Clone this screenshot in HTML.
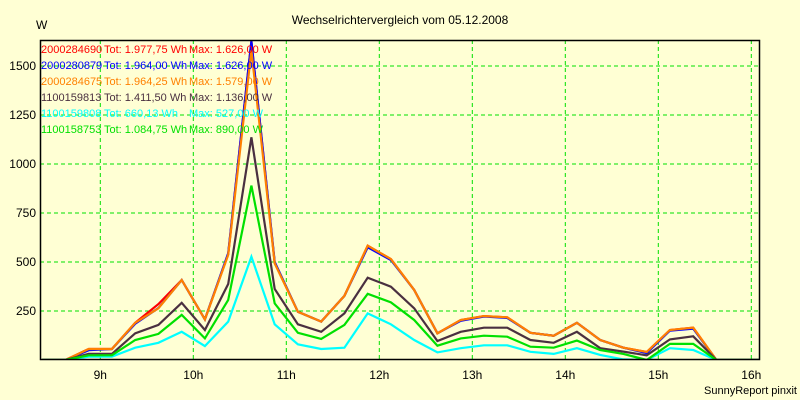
<!DOCTYPE html>
<html><head><meta charset="utf-8"><style>
html,body{margin:0;padding:0;background:#ffffd4;}
svg{display:block;font-family:"Liberation Sans",sans-serif;}
</style></head><body>
<svg id="chart" width="800" height="400" viewBox="0 0 800 400">
<defs><clipPath id="plotclip"><rect x="40" y="40" width="720" height="320"/></clipPath></defs>
<rect x="0" y="0" width="800" height="400" fill="#ffffd4"/>
<text x="400" y="24" text-anchor="middle" font-size="12" fill="#000">Wechselrichtervergleich vom 05.12.2008</text>
<text x="36" y="29" font-size="12" fill="#000">W</text>
<g id="grid"></g>
<g id="series" clip-path="url(#plotclip)"></g>
<rect x="40.5" y="40.5" width="719" height="319" fill="none" stroke="#000" stroke-width="1.5"/>
<g id="ticks"></g>
<g id="legend"></g>
<text x="797" y="394" text-anchor="end" font-size="11" fill="#000">SunnyReport pinxit</text>
</svg>
<script>
// times in hours (15 min intervals, midpoints)
const times = [8.375,8.625,8.875,9.125,9.375,9.625,9.875,10.125,10.375,10.625,10.875,11.125,11.375,11.625,11.875,12.125,12.375,12.625,12.875,13.125,13.375,13.625,13.875,14.125,14.375,14.625,14.875,15.125,15.375,15.625,15.875,16.125,16.375];
const redVals =    [0,0,56,56,190,285,408,207,540,1626,495,246,196,327,583,515,357,136,204,224,218,139,124,190,102,63,41,153,165,0,0,0,0];
const blueVals =   [0,0,50,56,185,265,408,207,545,1626,500,246,196,327,575,510,357,136,200,222,215,139,124,190,102,63,35,150,160,0,0,0,0];
const orangeVals = [0,0,56,56,190,264,408,207,536,1579,493,246,196,327,583,515,357,136,204,224,218,139,124,190,102,63,41,153,165,0,0,0,0];
const blackVals =  [0,0,31,31,136,179,292,153,388,1136,362,182,144,238,420,374,264,97,144,165,165,102,88,144,60,43,24,105,121,0,0,0,0];
const cyanVals =   [0,0,17,17,63,88,144,71,196,527,182,80,56,63,238,182,102,39,60,75,75,42,31,60,26,3,0,60,51,0,0,0,0];
const greenVals =  [0,0,24,24,102,133,230,110,306,890,289,139,107,179,338,294,204,73,110,124,119,68,63,99,51,31,0,82,82,0,0,0,0];
const yTicks = [250,500,750,1000,1250,1500];
const xTicks = [9,10,11,12,13,14,15,16];
const xTickLabels = ["9h","10h","11h","12h","13h","14h","15h","16h"];
const legendIds = ["2000284690","2000280879","2000284675","1100159813","1100159808","1100158753"];
const legendTot = ["1.977,75","1.964,00","1.964,25","1.411,50","660,13","1.084,75"];
const legendMax = ["1.626,00","1.626,00","1.579,00","1.136,00","527,00","890,00"];

const NS="http://www.w3.org/2000/svg";
function xs(h){return 100.3+(h-9)*93;}
function ys(v){return 360-v*0.196;}
const grid=document.getElementById('grid'),ser=document.getElementById('series'),tk=document.getElementById('ticks'),lg=document.getElementById('legend');
function mk(tag,attrs,parent){const e=document.createElementNS(NS,tag);for(const k in attrs)e.setAttribute(k,attrs[k]);parent.appendChild(e);return e;}
yTicks.forEach(v=>{
  const l=mk('line',{x1:40,x2:760,y1:ys(v),y2:ys(v),stroke:'#00e000','stroke-dasharray':'4,3','stroke-width':1},grid);
  
  
  const t=mk('text',{x:36,y:ys(v)+4,'text-anchor':'end','font-size':12,fill:'#000'},tk);
  t.textContent=v;
  
  
});
xTicks.forEach((h,i)=>{
  const l=mk('line',{x1:xs(h),x2:xs(h),y1:40,y2:360,stroke:'#00e000','stroke-dasharray':'4,3','stroke-width':1},grid);
  
  
  const t=mk('text',{x:xs(h),y:379,'text-anchor':'middle','font-size':12,fill:'#000'},tk);
  t.textContent=xTickLabels[i];
  
  
});
const series=[[redVals,'#ff0000','series-2000284690'],[blueVals,'#0000ff','series-2000280879'],[orangeVals,'#ff8000','series-2000284675'],[blackVals,'#4a3040','series-1100159813'],[cyanVals,'#00ffff','series-1100159808'],[greenVals,'#00e000','series-1100158753']];
series.forEach(s=>{
  const pts=s[0].map((v,i)=>xs(times[i]).toFixed(1)+','+ys(v).toFixed(1)).join(' ');
  const p=mk('polyline',{points:pts,fill:'none',stroke:s[1],'stroke-width':2.2,'stroke-linejoin':'miter'},ser);
  
  
});
const lcol=['#ff0000','#0000ff','#ff8000','#4a3040','#00ffff','#00e000'];
legendIds.forEach((id,i)=>{
  const y=53+i*16;
  const t=mk('text',{y:y,'font-size':11,fill:lcol[i]},lg);
  
  
  const a=mk('tspan',{x:41},t);a.textContent=id;
  const b=mk('tspan',{x:104},t);b.textContent='Tot: '+legendTot[i]+' Wh';
  const c=mk('tspan',{x:189},t);c.textContent='Max: '+legendMax[i]+' W';
});
</script>
</body></html>
